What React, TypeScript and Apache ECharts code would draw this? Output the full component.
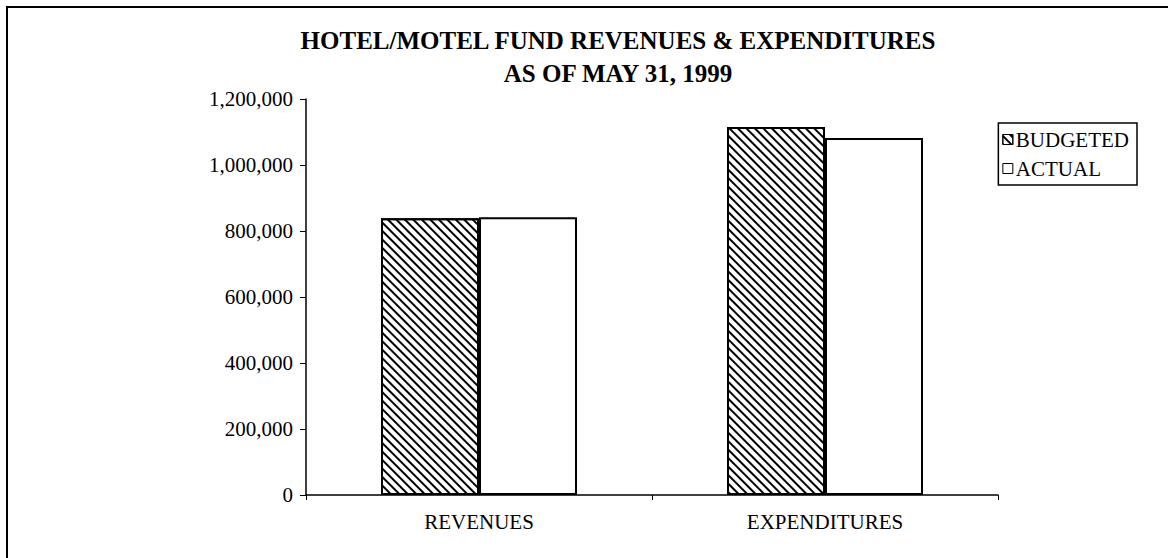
import React, { useEffect, useRef } from "react";
import * as echarts from "echarts";

const categories = ["REVENUES", "EXPENDITURES"];
const seriesNames = ["BUDGETED", "ACTUAL"];
const budgeted = [839000, 1115000];
const actual = [842000, 1082000];
const titleLines = ["HOTEL/MOTEL FUND REVENUES & EXPENDITURES", "AS OF MAY 31, 1999"];
const yMin = 0;
const yMax = 1200000;
const yStep = 200000;

const FONT = "'Liberation Serif', 'Times New Roman', serif";

export default function App() {
  const ref = useRef<HTMLDivElement>(null);
  useEffect(() => {
    if (!ref.current) return;
    const chart = echarts.init(ref.current, null, { renderer: "svg" });
    chart.setOption({
      animation: false,
      backgroundColor: "#fff",
      textStyle: { fontFamily: FONT, color: "#000" },
      graphic: [
        {
          type: "rect",
          shape: { x: 7, y: 7, width: 1200, height: 600 },
          style: { fill: "none", stroke: "#000", lineWidth: 2 },
          silent: true,
        },
        {
          type: "text",
          x: 618,
          y: 40,
          style: {
            text: titleLines[0],
            font: `bold 25px ${FONT}`,
            fill: "#000",
            textAlign: "center",
            textVerticalAlign: "middle",
          },
        },
        {
          type: "text",
          x: 618,
          y: 73,
          style: {
            text: titleLines[1],
            font: `bold 25px ${FONT}`,
            fill: "#000",
            textAlign: "center",
            textVerticalAlign: "middle",
          },
        },
      ],
      legend: {
        orient: "vertical",
        right: 31,
        top: 123,
        data: seriesNames,
        icon: "rect",
        itemWidth: 10,
        itemHeight: 10,
        itemGap: 8,
        padding: [6, 8, 6, 4],
        borderColor: "#000",
        borderWidth: 1.5,
        backgroundColor: "#fff",
        textStyle: { fontFamily: FONT, fontSize: 21, color: "#000", padding: [0, 0, 0, -2] },
        itemStyle: { borderWidth: 1, borderColor: "#000" },
      },
      grid: { left: 306, right: 170, top: 99, bottom: 63 },
      xAxis: {
        type: "category",
        data: categories,
        axisLine: { lineStyle: { color: "#000", width: 1.5 } },
        axisTick: { show: true, length: 5, lineStyle: { color: "#000" } },
        axisLabel: { fontFamily: FONT, fontSize: 21, color: "#000", margin: 16 },
      },
      yAxis: {
        type: "value",
        min: yMin,
        max: yMax,
        interval: yStep,
        axisLine: { show: true, lineStyle: { color: "#000", width: 1.5 } },
        axisTick: { show: true, length: 6, lineStyle: { color: "#000" } },
        splitLine: { show: false },
        axisLabel: {
          fontFamily: FONT,
          fontSize: 21,
          color: "#000",
          margin: 13,
          formatter: (v: number) => v.toLocaleString("en-US"),
        },
      },
      series: [
        {
          name: seriesNames[0],
          type: "bar",
          data: budgeted,
          barWidth: 98,
          barGap: "0%",
          itemStyle: {
            color: "#fff",
            borderColor: "#000",
            borderWidth: 2,
            decal: {
              symbol: "rect",
              symbolSize: 1,
              color: "#000",
              backgroundColor: "#fff",
              dashArrayX: [1, 0],
              dashArrayY: [2, 4],
              rotation: Math.PI / 4,
            },
          },
        },
        {
          name: seriesNames[1],
          type: "bar",
          data: actual,
          barWidth: 98,
          barGap: "0%",
          itemStyle: { color: "#fff", borderColor: "#000", borderWidth: 2 },
        },
      ],
    });
    return () => chart.dispose();
  }, []);
  return (
    <div
      ref={ref}
      style={{ position: "absolute", left: 0, top: 0, width: 1168, height: 558 }}
    />
  );
}
